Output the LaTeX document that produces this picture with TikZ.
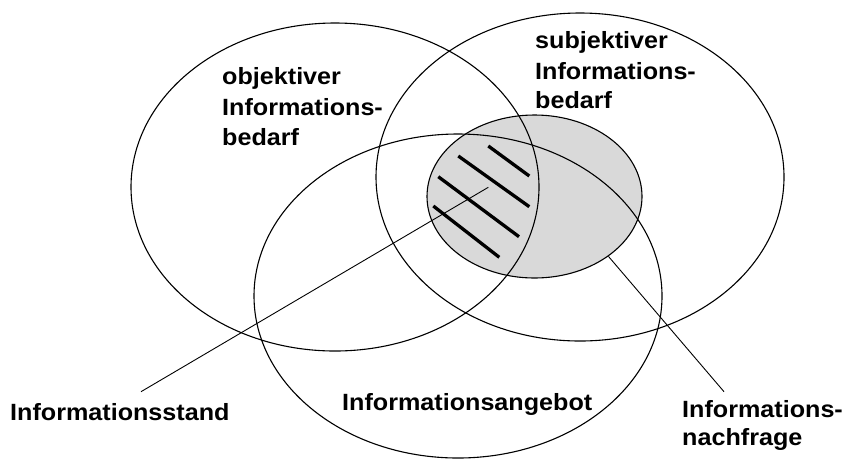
\documentclass[tikz,border=0pt]{standalone}
\usepackage{fontspec}
\setmainfont{Liberation Sans}[FakeStretch=1.07]
\usetikzlibrary{shapes.geometric}
\definecolor{shade}{RGB}{217,217,217}
\begin{document}
\begin{tikzpicture}[x=1pt,y=-1pt,
  setring/.style={ellipse,draw,line width=1.1pt,inner sep=0pt,
    minimum width=408pt,minimum height=328pt},
  lbl/.style={anchor=base west,inner sep=0pt,
    font=\fontsize{23.5}{30}\selectfont\bfseries},
  leader/.style={line width=0.9pt},
  hatch/.style={line width=3.3pt}]
\useasboundingbox (0,0) rectangle (845,459);

% demand actually expressed (shaded region)
\node[ellipse,fill=shade,draw,line width=1.1pt,inner sep=0pt,
  minimum width=215pt,minimum height=163pt] (nachE) at (534.5,196.5) {};

% the three sets
\node[setring] (objE)  at (335,187) {};
\node[setring] (subjE) at (580,177) {};
\node[setring,minimum height=324pt] (angE) at (458,296) {};

% hatching of the information state
\draw[hatch] (488.3,146) -- (529.3,176);
\draw[hatch] (458.3,156) -- (529.3,206.7);
\draw[hatch] (438.3,176.7) -- (519,236.7);
\draw[hatch] (433.3,206) -- (499.3,257.3);

% labels
\node[lbl] (obj1) at (222,84.5) {objektiver};
\node[lbl] (obj2) at (222,115) {Informations-};
\node[lbl] (obj3) at (222,145) {bedarf};

\node[lbl] (subj1) at (535,48.5) {subjektiver};
\node[lbl] (subj2) at (535,79.5) {Informations-};
\node[lbl] (subj3) at (535,108) {bedarf};

\node[lbl] (stand) at (10,420.7) {Informationsstand};
\node[lbl] (angebot) at (342,410.7) {Informationsangebot};
\node[lbl] (nach1) at (682,417.7) {Informations-};
\node[lbl] (nach2) at (682,445) {nachfrage};

% leader lines
\coordinate (standIn) at (488.3,187.3);
\coordinate (standOut) at (141,391.7);
\coordinate (nachOut) at (724,391.7);
\draw[leader] (standIn) -- (standOut);
\draw[leader] (nachE.-39.5) -- (nachOut);
\end{tikzpicture}
\end{document}
